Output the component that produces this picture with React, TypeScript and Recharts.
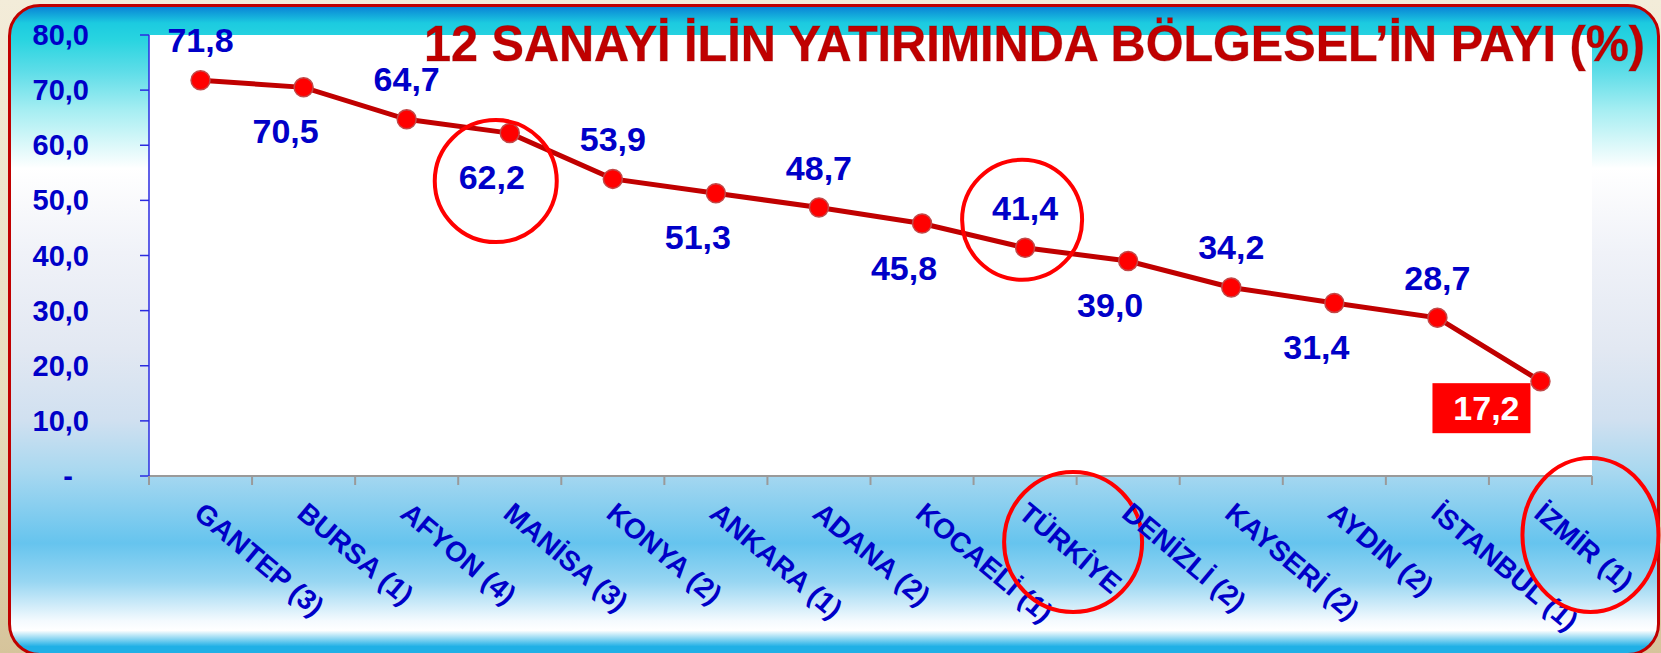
import React from 'react';
import { LineChart, Line, XAxis, YAxis, CartesianGrid, LabelList } from 'recharts';

// ---- data ----
const categories = [
  'GANTEP (3)', 'BURSA (1)', 'AFYON (4)', 'MANİSA (3)', 'KONYA (2)', 'ANKARA (1)', 'ADANA (2)',
  'KOCAELİ (1)', 'TÜRKİYE', 'DENİZLİ (2)', 'KAYSERİ (2)', 'AYDIN (2)', 'İSTANBUL (1)', 'İZMİR (1)',
];
const shares = [71.8, 70.5, 64.7, 62.2, 53.9, 51.3, 48.7, 45.8, 41.4, 39.0, 34.2, 31.4, 28.7, 17.2];
const yTicks = [0, 10, 20, 30, 40, 50, 60, 70, 80];
const circledLabels = ['MANİSA (3)', 'TÜRKİYE'];
const circledTicks = ['TÜRKİYE', 'İZMİR (1)'];
const boxedLabels = ['İZMİR (1)'];
const title = '12 SANAYİ İLİN YATIRIMINDA BÖLGESEL’İN PAYI (%)';

const data = categories.map((name, i) => ({ name, value: shares[i] }));

// ---- layout / style ----
const W = 1661;
const H = 653;
const Y_AXIS_W = 149;
const X_AXIS_H = 177;
const MARGIN = { top: 35, right: 69, bottom: 0, left: 0 };
const PLOT_W = W - Y_AXIS_W - MARGIN.right;
const HALF = PLOT_W / categories.length / 2;
const FONT = '"Liberation Sans", Arial, Helvetica, sans-serif';
const BLUE = '#0000C8';
const RED = '#FF0000';
const DARK_RED = '#C00000';

// annotation ring shapes (relative to the label / tick they surround)
const labelRing: Record<string, { dx: number; dy: number; r: number }> = {
  'MANİSA (3)': { dx: 4, dy: 4, r: 61 },
  'TÜRKİYE': { dx: -3, dy: 12, r: 60 },
};
const tickRing: Record<string, { dx: number; dy: number; rx: number; ry: number }> = {
  'TÜRKİYE': { dx: 48, dy: 66, rx: 69, ry: 70 },
  'İZMİR (1)': { dx: 50, dy: 59, rx: 68, ry: 77 },
};

const fmt = (v: number) => v.toFixed(1).replace('.', ',');

const renderLabel = (props: any) => {
  const x = props.x ?? props.viewBox?.x;
  const y = props.y ?? props.viewBox?.y;
  const index = props.index;
  const value = props.value;
  const name = categories[index];
  const txt = fmt(Number(value));
  if (boxedLabels.includes(name)) {
    return (
      <g>
        <rect x={x - 108} y={y + 2} width={98} height={50} fill={RED} />
        <text x={x - 54} y={y + 27 + 12} textAnchor="middle" fontFamily={FONT} fontWeight="bold" fontSize={34} fill="#FFFFFF">
          {txt}
        </text>
      </g>
    );
  }
  const above = index % 2 === 0;
  const cx = above ? x : x - 18;
  const cy = above ? y - 40 : y + 44;
  const ring = circledLabels.includes(name) ? labelRing[name] : undefined;
  return (
    <g>
      <text x={cx} y={cy + 12} textAnchor="middle" fontFamily={FONT} fontWeight="bold" fontSize={34} fill={BLUE}>
        {txt}
      </text>
      {ring && <circle cx={cx + ring.dx} cy={cy + ring.dy} r={ring.r} fill="none" stroke={RED} strokeWidth={4} />}
    </g>
  );
};

const renderXTick = (props: any) => {
  const { x, y, payload, index } = props;
  const name = String(payload.value);
  const ring = circledTicks.includes(name) ? tickRing[name] : undefined;
  return (
    <g>
      <line x1={x - HALF} x2={x - HALF} y1={y} y2={y + 9} stroke="#9A9A9A" strokeWidth={2} />
      {index === categories.length - 1 && (
        <line x1={x + HALF} x2={x + HALF} y1={y} y2={y + 9} stroke="#9A9A9A" strokeWidth={2} />
      )}
      <text
        transform={`translate(${x - 8},${y + 40}) rotate(40)`}
        fontFamily={FONT}
        fontWeight="bold"
        fontSize={28}
        fill={BLUE}
      >
        {name}
      </text>
      {ring && (
        <ellipse cx={x + ring.dx} cy={y + ring.dy} rx={ring.rx} ry={ring.ry} fill="none" stroke={RED} strokeWidth={4} />
      )}
    </g>
  );
};

const renderYTick = (props: any) => {
  const { x, y, payload } = props;
  const v = Number(payload.value);
  const label = v === 0 ? '-' : fmt(v);
  return (
    <text
      x={v === 0 ? x - 51 - 16 : x - 51}
      y={y + 10}
      textAnchor="end"
      fontFamily={FONT}
      fontWeight="bold"
      fontSize={29}
      fill={BLUE}
    >
      {label}
    </text>
  );
};

const innerGradient =
  'linear-gradient(180deg, #0A84D6 0%, #1CCBE0 2.5%, #28D4E0 5%, #5EDDE8 10%, #A6EEF2 16%, #FFFFFF 25%, #F0F2F8 38%, #E2E8F2 53%, #D0E0F0 64%, #A8D8F0 72%, #66C4EE 83%, #98D6F2 89%, #F4FAFE 95%, #FFFFFF 96.5%, #20B0E6 99%)';

export default function App() {
  return (
    <div
      style={{
        position: 'absolute',
        left: 0,
        top: 0,
        width: W,
        height: H,
        overflow: 'hidden',
        background: 'linear-gradient(180deg, #F3ECD9 0%, #E8DDBF 60%, #D6C49B 100%)',
      }}
    >
      <div
        style={{
          position: 'absolute',
          left: 8,
          top: 4,
          width: 1652,
          height: 652,
          boxSizing: 'border-box',
          border: `3px solid ${DARK_RED}`,
          borderRadius: 32,
          background: innerGradient,
        }}
      />
      <div style={{ position: 'absolute', left: 0, top: 0 }}>
        <LineChart width={W} height={H} data={data} margin={MARGIN}>
          <CartesianGrid fill="#FFFFFF" stroke="none" horizontal={false} vertical={false} />
          <XAxis
            dataKey="name"
            type="category"
            interval={0}
            height={X_AXIS_H}
            padding={{ left: HALF, right: HALF }}
            tickLine={false}
            tickSize={0}
            tickMargin={0}
            axisLine={{ stroke: '#9A9A9A', strokeWidth: 2 }}
            tick={renderXTick}
          />
          <YAxis
            type="number"
            domain={[0, 80]}
            ticks={yTicks}
            interval={0}
            width={Y_AXIS_W}
            tickSize={9}
            tickMargin={0}
            axisLine={{ stroke: '#2B2BE0', strokeWidth: 1.5 }}
            tickLine={{ stroke: '#2B2BE0', strokeWidth: 1.5 }}
            tick={renderYTick}
          />
          <Line
            type="linear"
            dataKey="value"
            stroke={DARK_RED}
            strokeWidth={5}
            dot={{ r: 9.5, fill: RED, stroke: '#C24848', strokeWidth: 1.5 }}
            activeDot={false}
            isAnimationActive={false}
          >
            <LabelList dataKey="value" content={renderLabel} />
          </Line>
        </LineChart>
      </div>
      <svg
        width={W}
        height={H}
        style={{ position: 'absolute', left: 0, top: 0, pointerEvents: 'none' }}
      >
        <g transform="translate(424,61) scale(1,1.045)">
          <text
            x={0}
            y={0}
            textLength={1221}
            lengthAdjust="spacingAndGlyphs"
            fontFamily={FONT}
            fontWeight="bold"
            fontSize={48}
            fill={DARK_RED}
            stroke="#7A0000"
            strokeOpacity={0.35}
            strokeWidth={0.8}
          >
            {title}
          </text>
        </g>
      </svg>
    </div>
  );
}
